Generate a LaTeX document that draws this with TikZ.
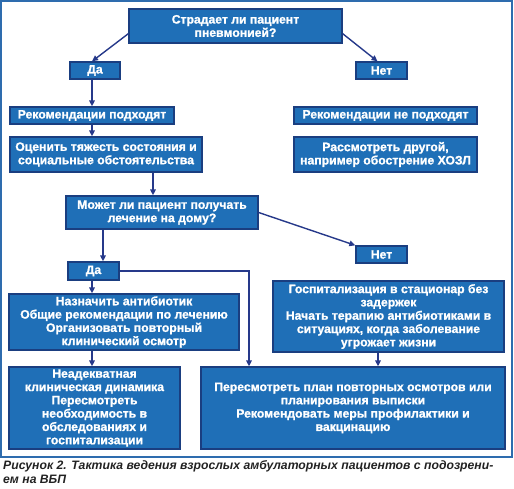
\documentclass[tikz,border=0pt]{standalone}
\usepackage{fontspec}
\setmainfont{Liberation Sans}
\newfontfamily\boxfont{Liberation Sans}[BoldFeatures={FakeBold=1.2}]
\usetikzlibrary{arrows.meta,calc}
\definecolor{boxfill}{HTML}{1F6FB7}
\definecolor{boxline}{HTML}{1A3E80}
\definecolor{arrowc}{HTML}{26398A}
\definecolor{framec}{HTML}{2E6CAE}
\definecolor{captc}{HTML}{222222}
\begin{document}
\begin{tikzpicture}[x=1pt,y=-1pt,
  fbox/.style={draw=boxline,fill=boxfill,line width=1.3pt,text=white,
    font=\boxfont\fontsize{12.2}{13.3}\selectfont\bfseries,inner sep=0pt,align=center},
  conn/.style={draw=arrowc,line width=1.4pt,-{Triangle[length=6pt,width=5.5pt]}}]
\useasboundingbox (0,0) rectangle (514,488);
\draw[framec,line width=2pt] (1,1) rectangle (512,457);

\node[fbox,minimum width=213pt,minimum height=34pt] (q1) at (235.5,26) {Страдает ли пациент\\пневмонией?};
\node[fbox,minimum width=50pt,minimum height=17pt] (da1) at (95,70.5) {Да};
\node[fbox,minimum width=51pt,minimum height=17pt] (net1) at (381.5,70.5) {Нет};
\node[fbox,minimum width=164pt,minimum height=17pt] (rp) at (92,115.5) {Рекомендации подходят};
\node[fbox,minimum width=183pt,minimum height=17pt] (rnp) at (385.5,115.5) {Рекомендации не подходят};
\node[fbox,minimum width=192pt,minimum height=35pt] (ocen) at (106,154.5) {Оценить тяжесть состояния и\\социальные обстоятельства};
\node[fbox,minimum width=183pt,minimum height=35pt] (rassm) at (385.5,154.5) {Рассмотреть другой,\\например обострение ХОЗЛ};
\node[fbox,minimum width=192pt,minimum height=33pt] (q2) at (162,212.5) {Может ли пациент получать\\лечение на дому?};
\node[fbox,minimum width=51pt,minimum height=17pt] (net2) at (381.5,254.5) {Нет};
\node[fbox,minimum width=51pt,minimum height=18pt] (da2) at (93.5,271) {Да};
\node[fbox,minimum width=230pt,minimum height=56pt] (nazn) at (124,322) {Назначить антибиотик\\Общие рекомендации по лечению\\Организовать повторный\\клинический осмотр};
\node[fbox,minimum width=231pt,minimum height=71pt] (gosp) at (388.5,316.5) {Госпитализация в стационар без\\задержек\\Начать терапию антибиотиками в\\ситуациях, когда заболевание\\угрожает жизни};
\node[fbox,minimum width=171pt,minimum height=82pt] (nead) at (94.5,408) {Неадекватная\\клиническая динамика\\Пересмотреть\\необходимость в\\обследованиях и\\госпитализации};
\node[fbox,minimum width=304pt,minimum height=82pt] (peresm) at (353,408) {Пересмотреть план повторных осмотров или\\планирования выписки\\Рекомендовать меры профилактики и\\вакцинацию};

\draw[conn] ([yshift=10pt]q1.south west) -- ([xshift=-3pt]da1.north);
\draw[conn] ([yshift=10pt]q1.south east) -- ([xshift=-4pt]net1.north);
\draw[conn] (da1.south -| rp.north) -- (rp.north);
\draw[conn] (rp.south) -- (rp.south |- ocen.north);
\draw[conn] ([xshift=47pt]ocen.south) -- ([xshift=47pt]ocen.south |- q2.north);
\draw[conn] (q2.east) -- (net2.north west);
\draw[conn] ([xshift=-59pt]q2.south) -- ([xshift=-59pt]q2.south |- da2.north);
\draw[conn] ([xshift=-1.5pt]da2.south) -- ([xshift=-1.5pt]da2.south |- nazn.north);
\draw[conn] (da2.east) -| ([xshift=-104pt]peresm.north);
\draw[conn] ([xshift=-32pt]nazn.south) -- ([xshift=-32pt]nazn.south |- nead.north);
\draw[conn] ([xshift=-10.5pt]gosp.south) -- ([xshift=-10.5pt]gosp.south |- peresm.north);

\node[anchor=north west,inner sep=0pt,align=left,text=captc,
  font=\fontsize{12.2}{14.5}\selectfont\bfseries\itshape] (capt) at (3,460)
  {Рисунок 2. Тактика ведения взрослых амбулаторных пациентов с подозрени-\\ем на ВБП};
\end{tikzpicture}
\end{document}
